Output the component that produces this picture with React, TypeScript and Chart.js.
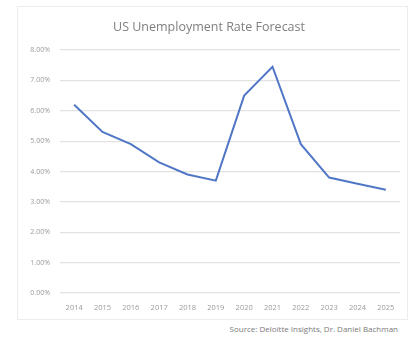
import React, { useEffect, useRef } from "react";
import { Chart, registerables } from "chart.js";

Chart.register(...registerables);

const years = ["2014", "2015", "2016", "2017", "2018", "2019", "2020", "2021", "2022", "2023", "2024", "2025"];
const unemploymentRate = [6.2, 5.3, 4.9, 4.3, 3.9, 3.7, 6.5, 7.45, 4.9, 3.8, 3.6, 3.4];
const yTicks = [0, 1, 2, 3, 4, 5, 6, 7, 8];
const chartTitle = "US Unemployment Rate Forecast";
const sourceText = "Source: Deloitte Insights, Dr. Daniel Bachman";

export default function App() {
  const canvasRef = useRef<HTMLCanvasElement | null>(null);

  useEffect(() => {
    if (!canvasRef.current) return;
    const chart = new Chart(canvasRef.current, {
      type: "line",
      data: {
        labels: years,
        datasets: [
          {
            data: unemploymentRate,
            borderColor: "#5077c6",
            borderWidth: 2,
            pointRadius: 0,
            tension: 0,
            fill: false,
          },
        ],
      },
      options: {
        animation: false,
        responsive: false,
        maintainAspectRatio: false,
        layout: { padding: { left: 0, right: 7, top: 0, bottom: 0 } },
        plugins: {
          legend: { display: false },
          tooltip: { enabled: false },
          title: {
            display: true,
            text: chartTitle,
            color: "#7f7f7f",
            font: { family: "'Open Sans', 'Liberation Sans', sans-serif", size: 12.5, weight: "normal" },
            padding: { top: 13, bottom: 15 },
          },
        },
        scales: {
          x: {
            type: "category",
            offset: true,
            grid: { display: false, drawTicks: false },
            border: { display: false },
            ticks: {
              color: "#9a9a9a",
              font: { family: "'Open Sans', 'Liberation Sans', sans-serif", size: 7.5 },
              padding: 10,
              maxRotation: 0,
              autoSkip: false,
            },
            afterFit: (scale: any) => {
              scale.height = 26;
            },
          },
          y: {
            min: 0,
            max: 8,
            afterBuildTicks: (scale: any) => {
              scale.ticks = yTicks.map((v) => ({ value: v }));
            },
            grid: { color: "#e2e2e2", lineWidth: 1.2, drawTicks: false },
            border: { display: false },
            ticks: {
              color: "#9a9a9a",
              font: { family: "'Open Sans', 'Liberation Sans', sans-serif", size: 7 },
              padding: 10,
              callback: (v: any) => `${Number(v).toFixed(2)}%`,
            },
            afterFit: (scale: any) => {
              scale.width = 42;
            },
          },
        },
      },
    });
    return () => chart.destroy();
  }, []);

  return (
    <div style={{ position: "fixed", left: 0, top: 0, width: 417, height: 337, background: "#fff" }}>
      <div
        style={{
          position: "absolute",
          left: 17,
          top: 6,
          width: 389,
          height: 312,
          border: "1px solid #ececec",
        }}
      >
        <canvas ref={canvasRef} width={389} height={312} style={{ display: "block", width: 389, height: 312 }} />
      </div>
      <div
        style={{
          position: "absolute",
          right: 19,
          top: 323,
          fontFamily: "'Open Sans', 'Liberation Sans', sans-serif",
          fontSize: 8,
          color: "#7a7a7a",
          whiteSpace: "nowrap",
        }}
      >
        {sourceText}
      </div>
    </div>
  );
}
